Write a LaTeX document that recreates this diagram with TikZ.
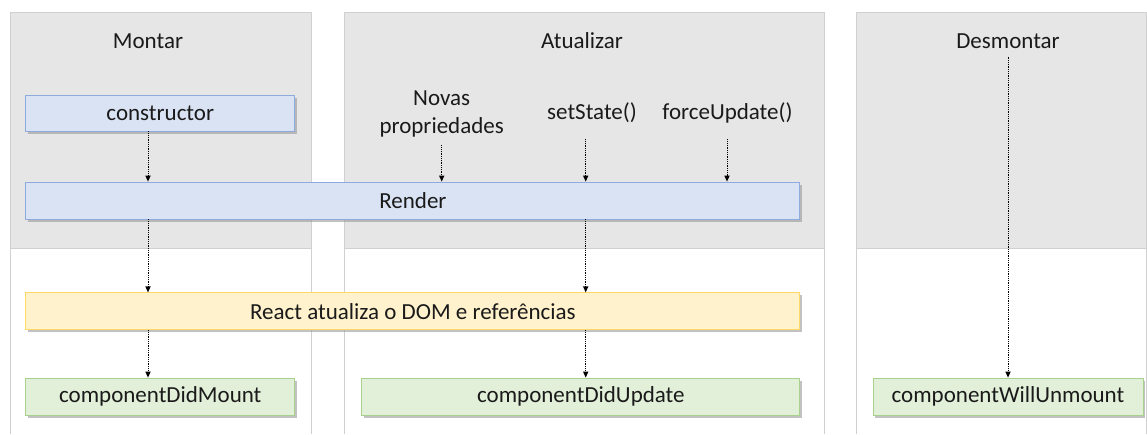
\documentclass[tikz,border=0pt]{standalone}
\usepackage{fontspec}
\setmainfont{Carlito}
\usetikzlibrary{arrows.meta,shadows}
\definecolor{colfill}{HTML}{E6E6E6}
\definecolor{colline}{HTML}{D0D0D0}
\definecolor{bluefill}{HTML}{DAE3F3}
\definecolor{blueline}{HTML}{8FAADC}
\definecolor{yelfill}{HTML}{FFF2CC}
\definecolor{yelline}{HTML}{FFD966}
\definecolor{grnfill}{HTML}{E2F0D9}
\definecolor{grnline}{HTML}{A9D18E}
\definecolor{txt}{HTML}{1A1A1A}
\begin{document}
\begin{tikzpicture}[x=1pt,y=-1pt,
  every node/.style={font=\fontsize{23}{28}\selectfont, text=txt},
  box/.style={draw, line width=0.9pt, inner sep=0pt,
    drop shadow={shadow xshift=2pt, shadow yshift=-2.5pt, fill=black!40, opacity=0.6}},
  bluebox/.style={box, fill=bluefill, draw=blueline},
  yelbox/.style={box, fill=yelfill, draw=yelline},
  grnbox/.style={box, fill=grnfill, draw=grnline},
  lbl/.style={align=center, inner sep=0pt},
  arr/.style={densely dotted, line width=0.8pt, black,
    -{Triangle[length=6pt,width=5.5pt,line width=0pt]}}
]
\useasboundingbox (0,0) rectangle (1147,434);
% columns
\fill[colfill] (10,12) rectangle (311,248);
\fill[colfill] (344,12) rectangle (824,248);
\fill[colfill] (856,12) rectangle (1147,248);
\draw[colline, line width=0.9pt] (10,434) -- (10,12) -- (311,12) -- (311,434);
\draw[colline, line width=0.9pt] (344,434) -- (344,12) -- (824,12) -- (824,434);
\draw[colline, line width=0.9pt] (856,434) -- (856,12) -- (1146.5,12) -- (1146.5,434);
\draw[colline, line width=0.6pt] (10,248) -- (311,248);
\draw[colline, line width=0.6pt] (344,248) -- (824,248);
\draw[colline, line width=0.6pt] (856,248) -- (1147,248);

% titles
\node[lbl] (montar) at (148,41) {Montar};
\node[lbl] (atualizar) at (582,41) {Atualizar};
\node[lbl] (desmontar) at (1008,41) {Desmontar};

% triggers
\node[lbl] (novas) at (441.7,114) {Novas\\propriedades};
\node[lbl] (setstate) at (592,113) {setState()};
\node[lbl] (force) at (727.5,113) {forceUpdate()};

% boxes
\node[bluebox, minimum width=269pt, minimum height=36pt] (constructor) at (160.3,113) {constructor};
\node[bluebox, minimum width=774pt, minimum height=37pt] (render) at (412.9,200.5) {Render};
\node[yelbox, minimum width=774pt, minimum height=37pt] (react) at (412.9,311.3) {React atualiza o DOM e referências};
\node[grnbox, minimum width=269pt, minimum height=37pt] (didmount) at (160.3,396.5) {componentDidMount};
\node[grnbox, minimum width=438pt, minimum height=37pt] (didupdate) at (580.9,396.5) {componentDidUpdate};
\node[grnbox, minimum width=270pt, minimum height=37pt] (willunmount) at (1008,396.5) {componentWillUnmount};

% x positions
\coordinate (xL) at (148,0);
\coordinate (xM) at (585.7,0);
\coordinate (xN) at (441.7,0);
\coordinate (xF) at (727,0);
\coordinate (xD) at (1008,0);

% arrows
\draw[arr] (constructor.south -| xL) -- (render.north -| xL);
\draw[arr] (render.south -| xL) -- (react.north -| xL);
\draw[arr] (react.south -| xL) -- (didmount.north -| xL);
\draw[arr, shorten <=8pt] (novas.south -| xN) -- (render.north -| xN);
\draw[arr, shorten <=16pt] (setstate.south -| xM) -- (render.north -| xM);
\draw[arr, shorten <=16pt] (force.south -| xF) -- (render.north -| xF);
\draw[arr] (render.south -| xM) -- (react.north -| xM);
\draw[arr] (react.south -| xM) -- (didupdate.north -| xM);
\draw[arr, shorten <=8pt] (desmontar.south -| xD) -- (willunmount.north -| xD);
\end{tikzpicture}
\end{document}
